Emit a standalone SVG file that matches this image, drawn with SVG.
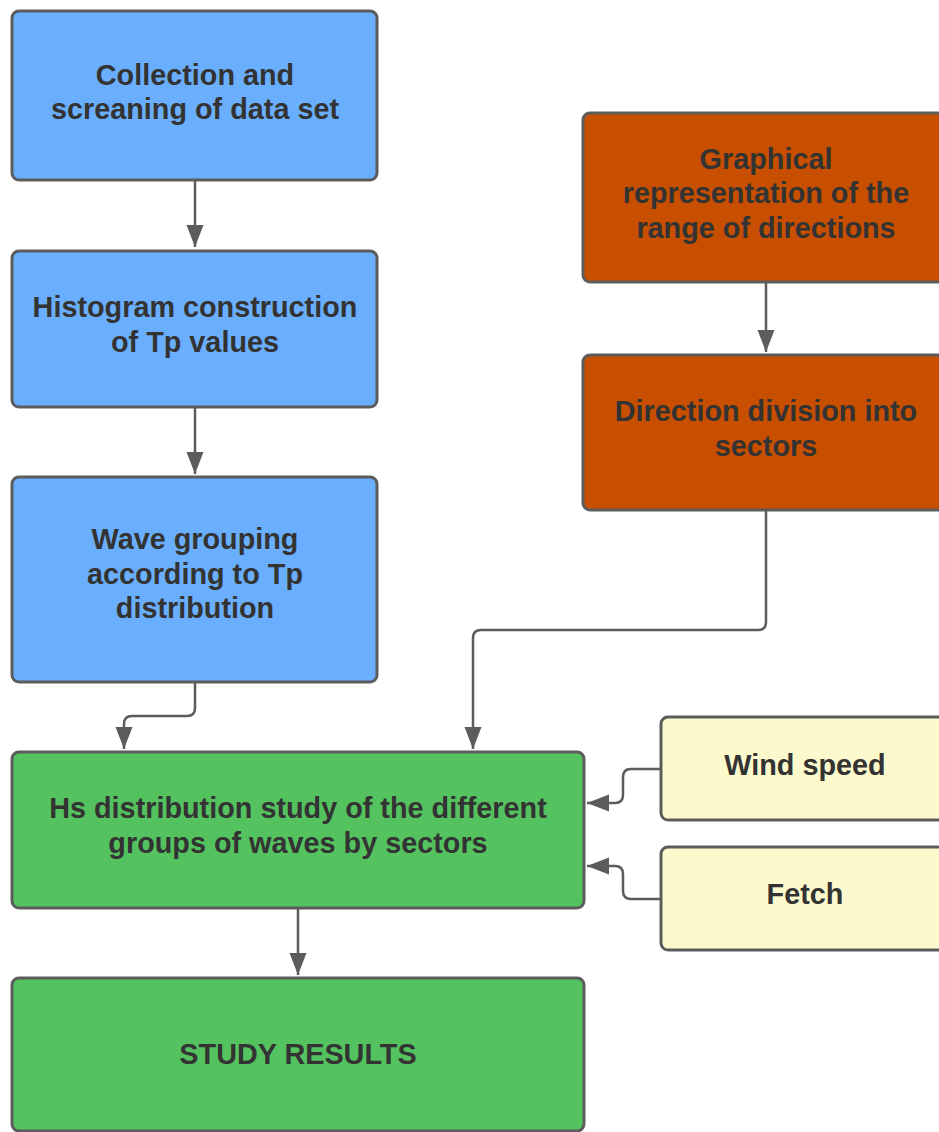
<svg xmlns="http://www.w3.org/2000/svg" width="939" height="1132" viewBox="0 0 939 1132">
<style>
.box{stroke:#5c5c5c;stroke-width:3}
.blue{fill:#6aaffd}
.orange{fill:#c84f00}
.green{fill:#54c35f}
.yellow{fill:#fcfacd}
.t{font-family:"Liberation Sans",Arial,sans-serif;font-weight:bold;font-size:28.8px;fill:#333333;text-anchor:middle}
.c{fill:none;stroke:#5c5c5c;stroke-width:2.5}
</style>
<defs>
<marker id="ah" markerUnits="userSpaceOnUse" markerWidth="24" markerHeight="18" refX="22" refY="8.5" orient="auto">
<path d="M0,0 L22,8.5 L0,17 Z" fill="#5c5c5c"/>
</marker>
</defs>
<rect width="939" height="1132" fill="#ffffff"/>
<g id="connectors">
<path class="c" d="M195,181 V247" marker-end="url(#ah)"/>
<path class="c" d="M195,408 V474" marker-end="url(#ah)"/>
<path class="c" d="M766,283 V352" marker-end="url(#ah)"/>
<path class="c" d="M195,683 V708 Q195,716 187,716 H132 Q124,716 124,724 V749" marker-end="url(#ah)"/>
<path class="c" d="M766,511 V622 Q766,630 758,630 H481 Q473,630 473,638 V749" marker-end="url(#ah)"/>
<path class="c" d="M660,769 H631 Q623,769 623,777 V795 Q623,803 615,803 H587" marker-end="url(#ah)"/>
<path class="c" d="M660,899 H631 Q623,899 623,891 V874 Q623,866 615,866 H587" marker-end="url(#ah)"/>
<path class="c" d="M298,909 V975" marker-end="url(#ah)"/>
</g>
<g id="n1"><rect class="box blue" x="12" y="11" width="365" height="169" rx="7"/>
<text class="t" x="195" y="85">Collection and</text><text class="t" x="195" y="119">screaning of data set</text></g>
<g id="n2"><rect class="box blue" x="12" y="251" width="365" height="156" rx="7"/>
<text class="t" x="195" y="317">Histogram construction</text><text class="t" x="195" y="352">of Tp values</text></g>
<g id="n3"><rect class="box blue" x="12" y="477" width="365" height="205" rx="7"/>
<text class="t" x="195" y="549">Wave grouping</text><text class="t" x="195" y="584">according to Tp</text><text class="t" x="195" y="618">distribution</text></g>
<g id="n4"><rect class="box orange" x="583" y="113" width="367" height="169" rx="7"/>
<text class="t" x="766" y="169">Graphical</text><text class="t" x="766" y="203">representation of the</text><text class="t" x="766" y="238">range of directions</text></g>
<g id="n5"><rect class="box orange" x="583" y="355" width="367" height="155" rx="7"/>
<text class="t" x="766" y="421">Direction division into</text><text class="t" x="766" y="456">sectors</text></g>
<g id="n6"><rect class="box green" x="12" y="752" width="572" height="156" rx="7"/>
<text class="t" x="298" y="818">Hs distribution study of the different</text><text class="t" x="298" y="853">groups of waves by sectors</text></g>
<g id="n7"><rect class="box yellow" x="661" y="717" width="290" height="103" rx="7"/>
<text class="t" x="805" y="775">Wind speed</text></g>
<g id="n8"><rect class="box yellow" x="661" y="847" width="290" height="103" rx="7"/>
<text class="t" x="805" y="904">Fetch</text></g>
<g id="n9"><rect class="box green" x="12" y="978" width="572" height="153" rx="7"/>
<text class="t" x="298" y="1064">STUDY RESULTS</text></g>
</svg>
